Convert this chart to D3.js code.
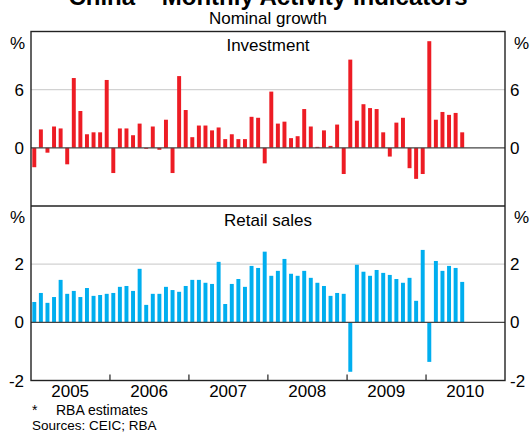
<!DOCTYPE html>
<html>
<head>
<meta charset="utf-8">
<script src="https://cdn.jsdelivr.net/npm/d3@7"></script>
<style>
    body { margin: 0; background: #fff; }
    text { font-family: Arial, "Liberation Sans", sans-serif; fill: #000; }
</style>
</head>
<body>
<div id="chart"></div>
<script>
// monthly % change, Jan 2005 - Jun 2010
var years = ["2005", "2006", "2007", "2008", "2009", "2010"];

var investment = [
    -2.0, 1.9, -0.5, 2.2, 2.0, -1.7, 7.2, 3.8, 1.4, 1.6, 1.6, 7.0,
    -2.6, 2.0, 2.0, 1.3, 2.5, -0.1, 2.2, -0.2, 2.9, -2.6, 7.4, 3.9,
    1.1, 2.3, 2.3, 1.8, 2.1, 0.9, 1.4, 0.9, 0.9, 3.2, 3.1, -1.6,
    5.8, 2.5, 2.7, 1.0, 1.2, 4.0, 2.2, 0.1, 1.8, 0.2, 2.4, -2.7,
    9.1, 2.8, 4.5, 4.1, 4.0, 1.6, -0.9, 2.6, 3.1, -2.1, -3.2, -2.7,
    11.0, 2.9, 3.7, 3.4, 3.6, 1.6
];

var retail = [
    0.70, 1.01, 0.67, 0.87, 1.46, 0.98, 1.08, 0.87, 1.18, 0.91, 0.94, 0.98,
    1.01, 1.22, 1.25, 1.08, 1.84, 0.60, 0.98, 0.98, 1.22, 1.11, 1.05, 1.25,
    1.46, 1.46, 1.36, 1.32, 2.08, 0.63, 1.32, 1.49, 1.22, 1.94, 1.87, 2.43,
    1.60, 1.77, 2.18, 1.67, 1.60, 1.77, 1.53, 1.36, 1.25, 0.91, 1.01, 0.98,
    -1.70, 1.98, 1.74, 1.60, 1.80, 1.70, 1.63, 1.49, 1.36, 1.53, 0.74, 2.49,
    -1.36, 2.11, 1.77, 1.94, 1.87, 1.39
];

var invTicks = [0, 6];
var retTicks = [0, 2];

var red = "#ed1c24",
    blue = "#00aeef";

var width = 531,
    height = 444,
    left = 31,
    right = 505;

// //////////////////////////////////////////////////////////
// ///////////////////// Scales /////////////////////////////
// //////////////////////////////////////////////////////////

var start = new Date(2005, 0, 1),
    end = new Date(2011, 0, 1);
var months = d3.timeMonth.range(start, end);

var x = d3.scaleBand()
    .domain(d3.range(months.length))
    .range([left, right])
    .paddingInner(0.4)
    .paddingOuter(0.2);

var xTime = d3.scaleTime()
    .domain([start, end])
    .range([left, right]);

var yInv = d3.scaleLinear().domain([-6, 12]).range([206, 31.5]);
var yRet = d3.scaleLinear().domain([-2, 4]).range([380.5, 206]);

var svg = d3.select("#chart").append("svg")
    .attr("width", width)
    .attr("height", height);

// //////////////////////////////////////////////////////////
// ///////////////////// Titles /////////////////////////////
// //////////////////////////////////////////////////////////

var mid = (left + right) / 2;

svg.append("text")
    .attr("x", mid).attr("y", 5)
    .attr("text-anchor", "middle")
    .style("font-size", "24px")
    .style("font-weight", "bold")
    .text("China \u2013 Monthly Activity Indicators");

svg.append("text")
    .attr("x", mid).attr("y", 24)
    .attr("text-anchor", "middle")
    .style("font-size", "17px")
    .text("Nominal growth");

// //////////////////////////////////////////////////////////
// ///////////////////// Panels /////////////////////////////
// //////////////////////////////////////////////////////////

function drawPanel(y, values, ticks, color, name, nameY, showBottom) {
    var g = svg.append("g");

    // light gridlines
    g.selectAll("line.grid")
        .data(ticks.filter(function(d) { return d !== 0; }))
        .enter().append("line")
        .attr("x1", left).attr("x2", right)
        .attr("y1", function(d) { return y(d); })
        .attr("y2", function(d) { return y(d); })
        .style("stroke", "#d2d2d2")
        .style("stroke-width", 1.3);

    g.selectAll("rect.bar")
        .data(values)
        .enter().append("rect")
        .attr("x", function(d, i) { return x(i); })
        .attr("width", x.bandwidth())
        .attr("y", function(d) { return y(Math.max(0, d)); })
        .attr("height", function(d) { return Math.abs(y(d) - y(0)); })
        .style("fill", color);

    // zero line
    g.append("line")
        .attr("x1", left).attr("x2", right)
        .attr("y1", y(0)).attr("y2", y(0))
        .style("stroke", "#444")
        .style("stroke-width", 1.3);

    g.append("text")
        .attr("x", mid).attr("y", nameY)
        .attr("text-anchor", "middle")
        .style("font-size", "17px")
        .text(name);

    // tick labels both sides
    var labels = ticks.slice();
    if (showBottom) labels.push(y.domain()[0]);
    labels.forEach(function(t) {
        svg.append("text")
            .attr("x", 24).attr("y", y(t) + 6)
            .attr("text-anchor", "end")
            .style("font-size", "17px")
            .text(t);
        svg.append("text")
            .attr("x", 510).attr("y", y(t) + 6)
            .style("font-size", "17px")
            .text(t);
    });

    // % units at the top
    var top = y.range()[1];
    svg.append("text")
        .attr("x", 10).attr("y", top + 17)
        .style("font-size", "17px")
        .text("%");
    svg.append("text")
        .attr("x", 514).attr("y", top + 17)
        .style("font-size", "17px")
        .text("%");
}

drawPanel(yInv, investment, invTicks, red, "Investment", 51, false);
drawPanel(yRet, retail, retTicks, blue, "Retail sales", 226, true);

// //////////////////////////////////////////////////////////
// ///////////////////// Frame + axis ///////////////////////
// //////////////////////////////////////////////////////////

svg.append("rect")
    .attr("x", left).attr("y", 31.5)
    .attr("width", right - left).attr("height", 380.5 - 31.5)
    .style("fill", "none")
    .style("stroke", "#222")
    .style("stroke-width", 1.4);

svg.append("line")
    .attr("x1", left).attr("x2", right)
    .attr("y1", 206).attr("y2", 206)
    .style("stroke", "#222")
    .style("stroke-width", 1.4);

var yearStarts = years.map(function(d) { return new Date(+d, 0, 1); });

svg.selectAll("line.ytick")
    .data(yearStarts.slice(1))
    .enter().append("line")
    .attr("x1", function(d) { return xTime(d); })
    .attr("x2", function(d) { return xTime(d); })
    .attr("y1", 374.5).attr("y2", 380.5)
    .style("stroke", "#222")
    .style("stroke-width", 1.2);

svg.selectAll("text.year")
    .data(years)
    .enter().append("text")
    .attr("x", function(d) {
        return xTime(d3.timeMonth.offset(new Date(+d, 0, 1), 6));
    })
    .attr("y", 396.5)
    .attr("text-anchor", "middle")
    .style("font-size", "17px")
    .text(function(d) { return d; });

// footnotes
svg.append("text")
    .attr("x", 32).attr("y", 415)
    .style("font-size", "14px")
    .text("*");
svg.append("text")
    .attr("x", 56).attr("y", 415)
    .style("font-size", "14px")
    .text("RBA estimates");
svg.append("text")
    .attr("x", 32).attr("y", 430)
    .style("font-size", "13.5px")
    .text("Sources: CEIC; RBA");
</script>
</body>
</html>
